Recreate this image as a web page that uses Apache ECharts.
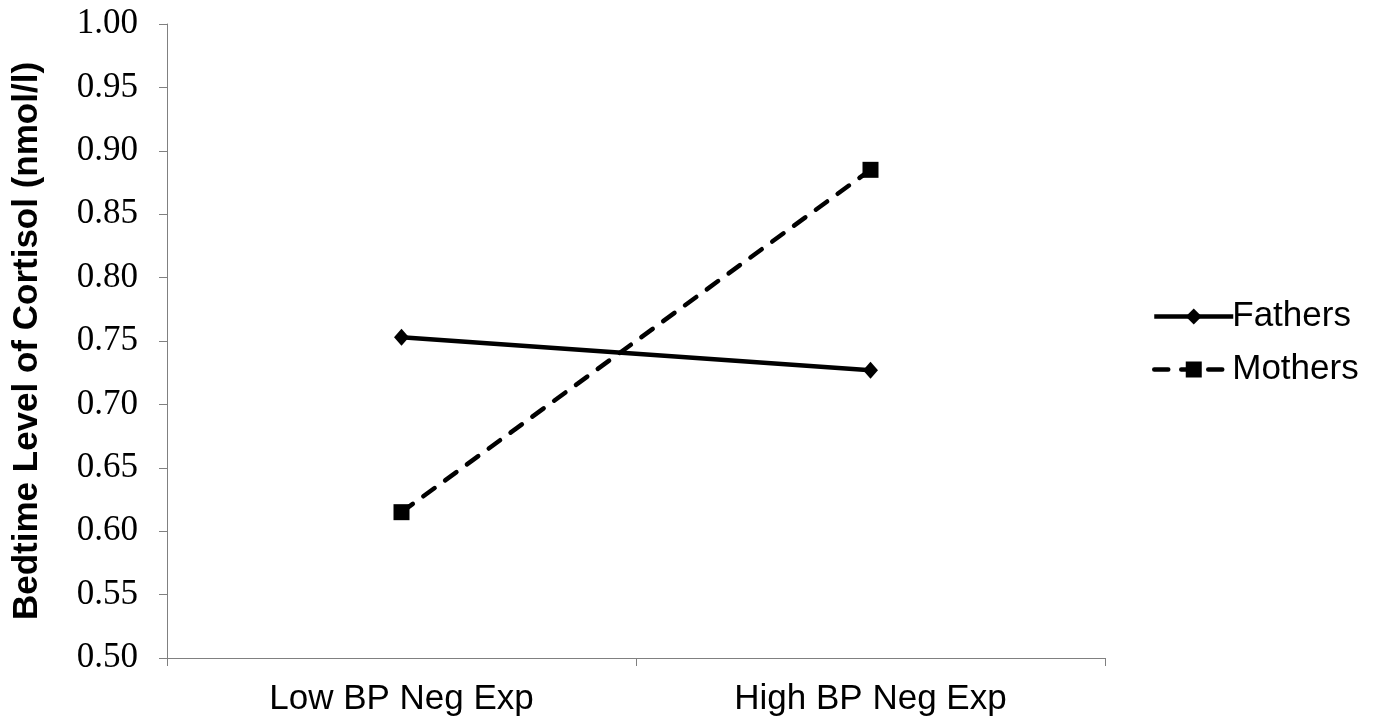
<!DOCTYPE html>
<html><head><meta charset="utf-8">
<script src="https://cdn.jsdelivr.net/npm/echarts@6/dist/echarts.min.js"></script>
<style>html,body{margin:0;padding:0;background:#fff}#c{width:1376px;height:719px}</style>
</head><body><div id="c"></div>
<script>
const categories = ['Low BP Neg Exp', 'High BP Neg Exp'];
const fathers = [0.753, 0.727];
const mothers = [0.615, 0.885];
const yTicks = { min: 0.5, max: 1.0, interval: 0.05 };
const yName = 'Bedtime Level of Cortisol (nmol/l)';

const chart = echarts.init(document.getElementById('c'));
chart.setOption({
  animation: false,
  backgroundColor: '#fff',
  grid: { left: 167, right: 271, top: 24, bottom: 61, containLabel: false, outerBoundsMode: 'none' },
  legend: {
    orient: 'vertical', left: 1147, top: 294, itemGap: 18,
    itemWidth: 79, itemHeight: 20,
    lineStyle: { width: 4.5 },
    textStyle: { fontFamily: 'Liberation Sans, Arial', fontSize: 35, color: '#000', padding: [0, 0, 0, -6] },
    data: ['Fathers', 'Mothers']
  },
  xAxis: {
    type: 'category', data: categories, boundaryGap: true,
    axisLine: { lineStyle: { color: '#808080', width: 1 } },
    axisTick: { show: true, length: 8, alignWithLabel: false, lineStyle: { color: '#808080' } },
    axisLabel: { fontFamily: 'Liberation Sans, Arial', fontSize: 35, color: '#000', margin: 24 }
  },
  yAxis: {
    type: 'value', min: yTicks.min, max: yTicks.max, interval: yTicks.interval,
    name: yName, nameLocation: 'middle', nameGap: 122,
    nameTextStyle: { fontFamily: 'Liberation Sans, Arial', fontSize: 35, fontWeight: 'bold', color: '#000' },
    axisLine: { show: true, lineStyle: { color: '#808080', width: 1 } },
    axisTick: { show: true, length: 8, lineStyle: { color: '#808080' } },
    splitLine: { show: false },
    axisLabel: { fontFamily: 'Liberation Serif, Times New Roman', fontSize: 35, color: '#000', margin: 29,
      formatter: v => v.toFixed(2) }
  },
  series: [
    { name: 'Fathers', type: 'line', data: fathers, symbol: 'diamond', symbolSize: [15, 17],
      lineStyle: { color: '#000', width: 4.5, type: 'solid' }, itemStyle: { color: '#000' } },
    { name: 'Mothers', type: 'line', data: mothers, symbol: 'rect', symbolSize: 16,
      lineStyle: { color: '#000', width: 4.5, type: [14, 13], cap: 'round' }, itemStyle: { color: '#000' } }
  ]
});
</script></body></html>
